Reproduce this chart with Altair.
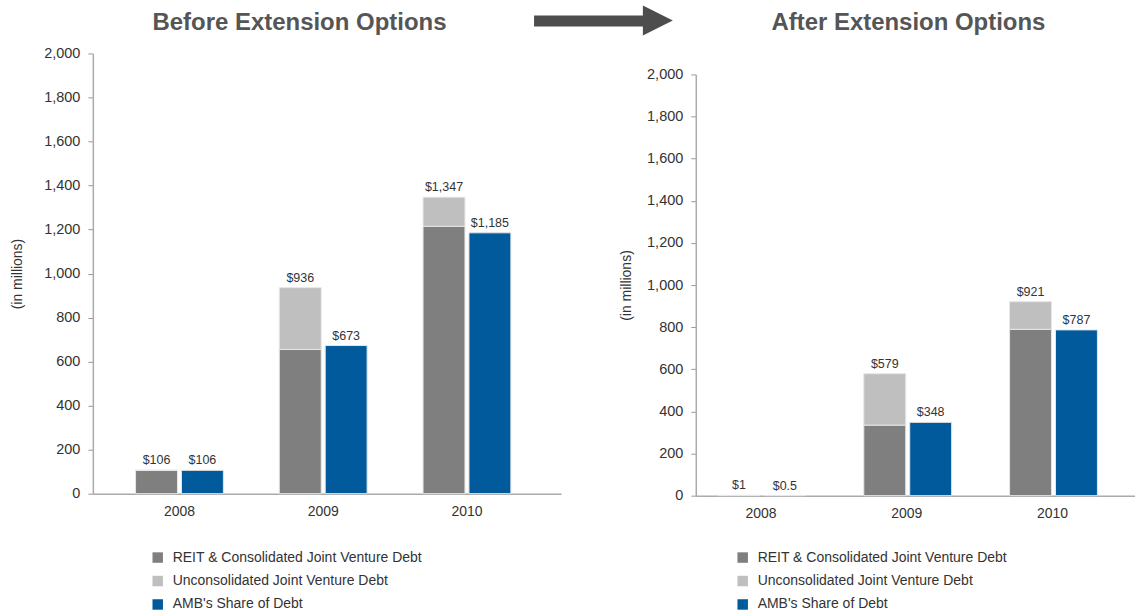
import altair as alt
import pandas as pd

FONT = "Liberation Sans"

years = ["2008", "2009", "2010"]
series = [
    "REIT & Consolidated Joint Venture Debt",
    "Unconsolidated Joint Venture Debt",
    "AMB's Share of Debt",
]
colors = ["#7f7f7f", "#bfbfbf", "#005a9c"]

# Before extension options (in millions)
before_reit = [106, 655, 1215]
before_total = [106, 936, 1347]
before_amb = [106, 673, 1185]

# After extension options (in millions)
after_reit = [1, 335, 790]
after_total = [1, 579, 921]
after_amb = [0.5, 348, 787]

titles = ["Before Extension Options", "After Extension Options"]


def fmt(v):
    return "$" + f"{v:,}"


def build_frames(reit, total, amb):
    bars, labels = [], []
    for i, yr in enumerate(years):
        bars.append(dict(year=yr, group="Total", series=series[0], lo=0, hi=reit[i]))
        bars.append(dict(year=yr, group="Total", series=series[1], lo=reit[i], hi=total[i]))
        bars.append(dict(year=yr, group="AMB", series=series[2], lo=0, hi=amb[i]))
        labels.append(dict(year=yr, group="Total", top=total[i], label=fmt(total[i])))
        labels.append(dict(year=yr, group="AMB", top=amb[i], label=fmt(amb[i])))
    return pd.DataFrame(bars), pd.DataFrame(labels)


one = pd.DataFrame({"a": [0]})


def panel(reit, total, amb, title, width, height, y_range, x_pi, x_po, x_align,
          off_pi, title_x, ytitle_pad, legend_x, legend_y, extras=()):
    bars, labels = build_frames(reit, total, amb)
    xs = alt.Scale(domain=years, paddingInner=x_pi, paddingOuter=x_po, align=x_align)
    xo = alt.Scale(domain=["Total", "AMB"], paddingInner=off_pi, paddingOuter=0)
    ys = alt.Scale(domain=[0, 2000], range=y_range, nice=False, zero=True)
    x_axis = alt.Axis(title=None, labelAngle=0, ticks=False, labelPadding=11,
                      labelFontSize=14, labelColor="#333333", labelFont=FONT,
                      domainColor="#aaaaaa", domainWidth=1.5)
    y_axis = alt.Axis(values=list(range(0, 2001, 200)), format=",d", grid=False,
                      labelFontSize=14.5, labelColor="#333333", labelFont=FONT,
                      tickSize=5, tickColor="#999999", labelPadding=8,
                      domainColor="#aaaaaa", domainWidth=1.5,
                      title="(in millions)", titleFontSize=14, titleFontWeight="normal",
                      titleColor="#333333", titleFont=FONT, titlePadding=ytitle_pad)
    bar = alt.Chart(bars).mark_bar(stroke="#e6e6e6", strokeWidth=1).encode(
        x=alt.X("year:N", scale=xs, axis=x_axis),
        xOffset=alt.XOffset("group:N", scale=xo),
        y=alt.Y("hi:Q", scale=ys, axis=y_axis, stack=None),
        y2="lo:Q",
        color=alt.Color("series:N", scale=alt.Scale(domain=series, range=colors),
                        legend=alt.Legend(title=None, orient="none", legendX=legend_x,
                                          legendY=legend_y, symbolType="square",
                                          symbolSize=110, symbolStrokeWidth=0,
                                          labelFontSize=14, labelFont=FONT,
                                          labelColor="#333333", labelOffset=8,
                                          rowPadding=9.5, labelLimit=400)),
    )
    text = alt.Chart(labels).mark_text(baseline="alphabetic", dy=-6, fontSize=12.5,
                                       font=FONT, color="#333333").encode(
        x=alt.X("year:N", scale=xs),
        xOffset=alt.XOffset("group:N", scale=xo),
        y=alt.Y("top:Q", scale=ys),
        text="label:N",
    )
    ttl = alt.Chart(one).mark_text(fontSize=24, fontWeight="bold", color="#555555",
                                   font=FONT, align="center", baseline="alphabetic").encode(
        x=alt.value(title_x), y=alt.value(-23), text=alt.value(title)
    )
    return alt.layer(bar, text, ttl, *extras).properties(width=width, height=height)


shaft = alt.Chart(one).mark_rule(color="#4d4d4d", strokeWidth=11, strokeCap="butt").encode(
    x=alt.value(442), x2=alt.value(553), y=alt.value(-32.5)
)
head = alt.Chart(one).mark_point(shape="M-1,-1L1,0L-1,1Z", filled=True, size=900,
                                 color="#4d4d4d", opacity=1, strokeWidth=0).encode(
    x=alt.value(566), y=alt.value(-33)
)

left = panel(before_reit, before_total, before_amb, titles[0],
             469, 441, [441, 0], 0.389, 0.323, 0.46, 0.087, 207, 19, 58, 498,
             extras=(shaft, head))

right = panel(after_reit, after_total, after_amb, titles[1],
              440, 443, [443, 21], 0.411, 0.212, 0.36, 0.1, 213, 13, 40, 498)

chart = alt.hconcat(left, right, spacing=135, bounds="flush").resolve_scale(
    color="independent", x="independent", y="independent"
).resolve_legend(color="independent").properties(
    padding={"left": 10, "top": 5, "right": 0, "bottom": 0}
).configure(font=FONT).configure_view(stroke=None)

chart.save("out.html", embed_options={"renderer": "svg", "actions": False})
